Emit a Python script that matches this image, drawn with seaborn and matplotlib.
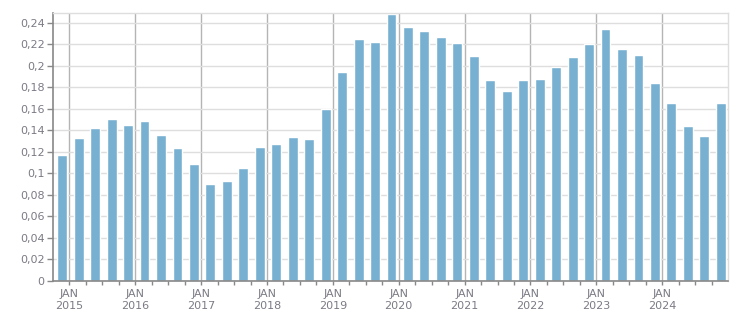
import matplotlib
matplotlib.use("Agg")
import matplotlib.pyplot as plt
from matplotlib.ticker import FixedLocator, FuncFormatter
import seaborn as sns
import pandas as pd

quarters = [f"{y} Q{q}" for y in range(2014, 2025) for q in range(1, 5)][3:]
values = [0.117, 0.133, 0.142, 0.151, 0.145, 0.149, 0.136, 0.124,
          0.109, 0.090, 0.093, 0.105, 0.125, 0.127, 0.134, 0.132,
          0.160, 0.194, 0.225, 0.222, 0.248, 0.236, 0.233, 0.227,
          0.221, 0.209, 0.187, 0.177, 0.187, 0.188, 0.199, 0.208,
          0.220, 0.234, 0.216, 0.210, 0.184, 0.166, 0.144, 0.135, 0.166]
years = list(range(2015, 2025))
year_labels = [f"JAN\n{y}" for y in years]

df = pd.DataFrame({"quarter": quarters, "value": values})

sns.set_style("white")
plt.rcParams['font.family'] = ['DejaVu Sans']

fig = plt.figure(figsize=(7.51, 3.13), dpi=100)
ax = fig.add_axes([53 / 751, 1 - 281 / 313, (728 - 53) / 751, (281 - 13) / 313])

sns.barplot(data=df, x="quarter", y="value", color="#78b0d2", saturation=1,
            width=0.6, ax=ax, zorder=2)

offset = 0.44
ax.set_xlim(-1 + offset, 40 + offset)
ax.set_ylim(0, 0.2493)

major = [offset + 4 * i for i in range(len(years))]
minor = [offset + i for i in range(40) if i % 4 != 0]
ax.xaxis.set_major_locator(FixedLocator(major))
ax.xaxis.set_minor_locator(FixedLocator(minor))
ax.set_xticklabels(year_labels)
ax.set_xlabel("")
ax.set_ylabel("")

yt = [i * 0.02 for i in range(13)]
ax.set_yticks(yt)
ax.yaxis.set_major_formatter(FuncFormatter(lambda v, p: ("%g" % round(v, 2)).replace(".", ",")))

txt = "#7b7b85"
ax.tick_params(axis="y", which="major", length=4, width=1, color="#888888",
               labelsize=8, labelcolor=txt, pad=2, left=True)
ax.tick_params(axis="x", which="both", length=3, width=1, color="#888888",
               labelsize=8, labelcolor=txt, pad=3, bottom=True)

ax.yaxis.grid(True, color="#dedede", linewidth=1, zorder=0)
ax.xaxis.grid(True, which="major", color="#b4b4b4", linewidth=1, zorder=0)
ax.set_axisbelow(True)

for s in ["left", "bottom"]:
    ax.spines[s].set_color("#888888")
    ax.spines[s].set_linewidth(1.2)
for s in ["top", "right"]:
    ax.spines[s].set_color("#dedede")
    ax.spines[s].set_linewidth(1)
    ax.spines[s].set_visible(True)

fig.savefig("out.png", dpi=100)
